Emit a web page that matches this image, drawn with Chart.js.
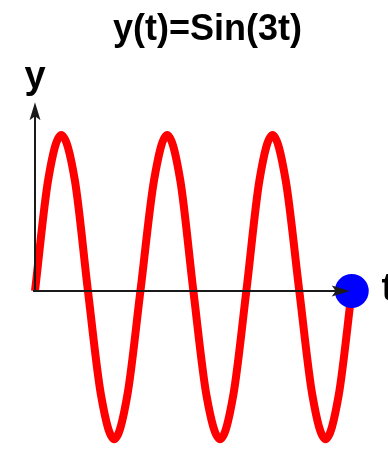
<!DOCTYPE html>
<html>
<head>
<meta charset="utf-8">
<script src="https://cdn.jsdelivr.net/npm/chart.js@4"></script>
<style>
  html, body { margin: 0; padding: 0; background: #ffffff; }
  #wrap { width: 388px; height: 450px; }
</style>
</head>
<body>
<div id="wrap"><canvas id="sine" width="388" height="450"></canvas></div>
<script>
// values (t in radians, one sample every eighth of a period)
var tValues = [0, 0.26, 0.52, 0.79, 1.05, 1.31, 1.57, 1.83, 2.09, 2.36, 2.62, 2.88,
               3.14, 3.40, 3.67, 3.93, 4.19, 4.45, 4.71, 4.97, 5.24, 5.50, 5.76, 6.02, 6.28];
var yValues = [0, 0.71, 1, 0.71, 0, -0.67, -0.95, -0.67, 0, 0.71, 1, 0.71,
               0, -0.67, -0.95, -0.67, 0, 0.71, 1, 0.71, 0, -0.67, -0.95, -0.67, 0];
// the blue marker at the end of the curve
var dotT = [6.28];
var dotY = [0];

var titleText = "y(t)=Sin(3t)";
var xLabel = "t";
var yLabel = "y";

var fontFamily = "'Liberation Sans', Arial, Helvetica, sans-serif";

// build point lists
var curve = [];
for (var i = 0; i < tValues.length; i++) {
    curve.push({x: tValues[i], y: yValues[i]});
}
var dot = [];
for (var j = 0; j < dotT.length; j++) {
    dot.push({x: dotT[j], y: dotY[j]});
}

// draws the two arrowed axes and their letters on top of the curve
var arrowAxes = {
    id: 'arrowAxes',
    afterDatasetsDraw: function(chart) {
        var ctx = chart.ctx;
        var xs = chart.scales.x;
        var ys = chart.scales.y;
        var ox = xs.getPixelForValue(0);
        var oy = ys.getPixelForValue(0);
        var xTip = xs.getPixelForValue(6.24);
        var yTip = ys.getPixelForValue(1.21);

        ctx.save();
        ctx.strokeStyle = '#1a1a1a';
        ctx.fillStyle = '#1a1a1a';
        ctx.lineWidth = 2;

        //horizontal axis
        ctx.beginPath();
        ctx.moveTo(ox - 2, oy);
        ctx.lineTo(xTip - 10, oy);
        ctx.stroke();
        ctx.beginPath();
        ctx.moveTo(xTip, oy);
        ctx.lineTo(xTip - 18, oy - 5.5);
        ctx.lineTo(xTip - 14, oy);
        ctx.lineTo(xTip - 18, oy + 5.5);
        ctx.closePath();
        ctx.fill();

        //vertical axis
        ctx.beginPath();
        ctx.moveTo(ox, oy + 1);
        ctx.lineTo(ox, yTip + 10);
        ctx.stroke();
        ctx.beginPath();
        ctx.moveTo(ox, yTip);
        ctx.lineTo(ox - 5.5, yTip + 18);
        ctx.lineTo(ox, yTip + 14);
        ctx.lineTo(ox + 5.5, yTip + 18);
        ctx.closePath();
        ctx.fill();

        //axis letters
        ctx.fillStyle = '#000000';
        ctx.font = 'bold 38px ' + fontFamily;
        ctx.textBaseline = 'middle';
        ctx.textAlign = 'center';
        ctx.fillText(yLabel, ox, ys.getPixelForValue(1.37));
        ctx.textAlign = 'left';
        ctx.fillText(xLabel, xs.getPixelForValue(6.87), oy - 1);
        ctx.restore();
    }
};

var chart = new Chart(document.getElementById('sine'), {
    type: 'scatter',
    data: {
        datasets: [{
            data: dot,
            order: 0,
            showLine: false,
            pointRadius: 17,
            pointHoverRadius: 17,
            pointBackgroundColor: '#0000ff',
            pointBorderColor: '#0000ff',
            pointBorderWidth: 0
        }, {
            data: curve,
            order: 1,
            showLine: true,
            borderColor: '#ff0000',
            borderWidth: 8,
            pointRadius: 0,
            cubicInterpolationMode: 'monotone',
            clip: false
        }]
    },
    options: {
        responsive: false,
        animation: false,
        devicePixelRatio: 1,
        layout: {
            autoPadding: false,
            padding: {left: 35, right: 8, top: 0, bottom: 3}
        },
        scales: {
            x: {type: 'linear', display: false, min: 0, max: 6.84},
            y: {type: 'linear', display: false, min: -1, max: 1}
        },
        plugins: {
            legend: {display: false},
            tooltip: {enabled: false},
            title: {
                display: true,
                text: titleText,
                fullSize: false,
                color: '#000000',
                font: {family: fontFamily, size: 36, weight: 'bold', lineHeight: 1},
                padding: {top: 12, bottom: 87}
            }
        }
    },
    plugins: [arrowAxes]
});
</script>
</body>
</html>
